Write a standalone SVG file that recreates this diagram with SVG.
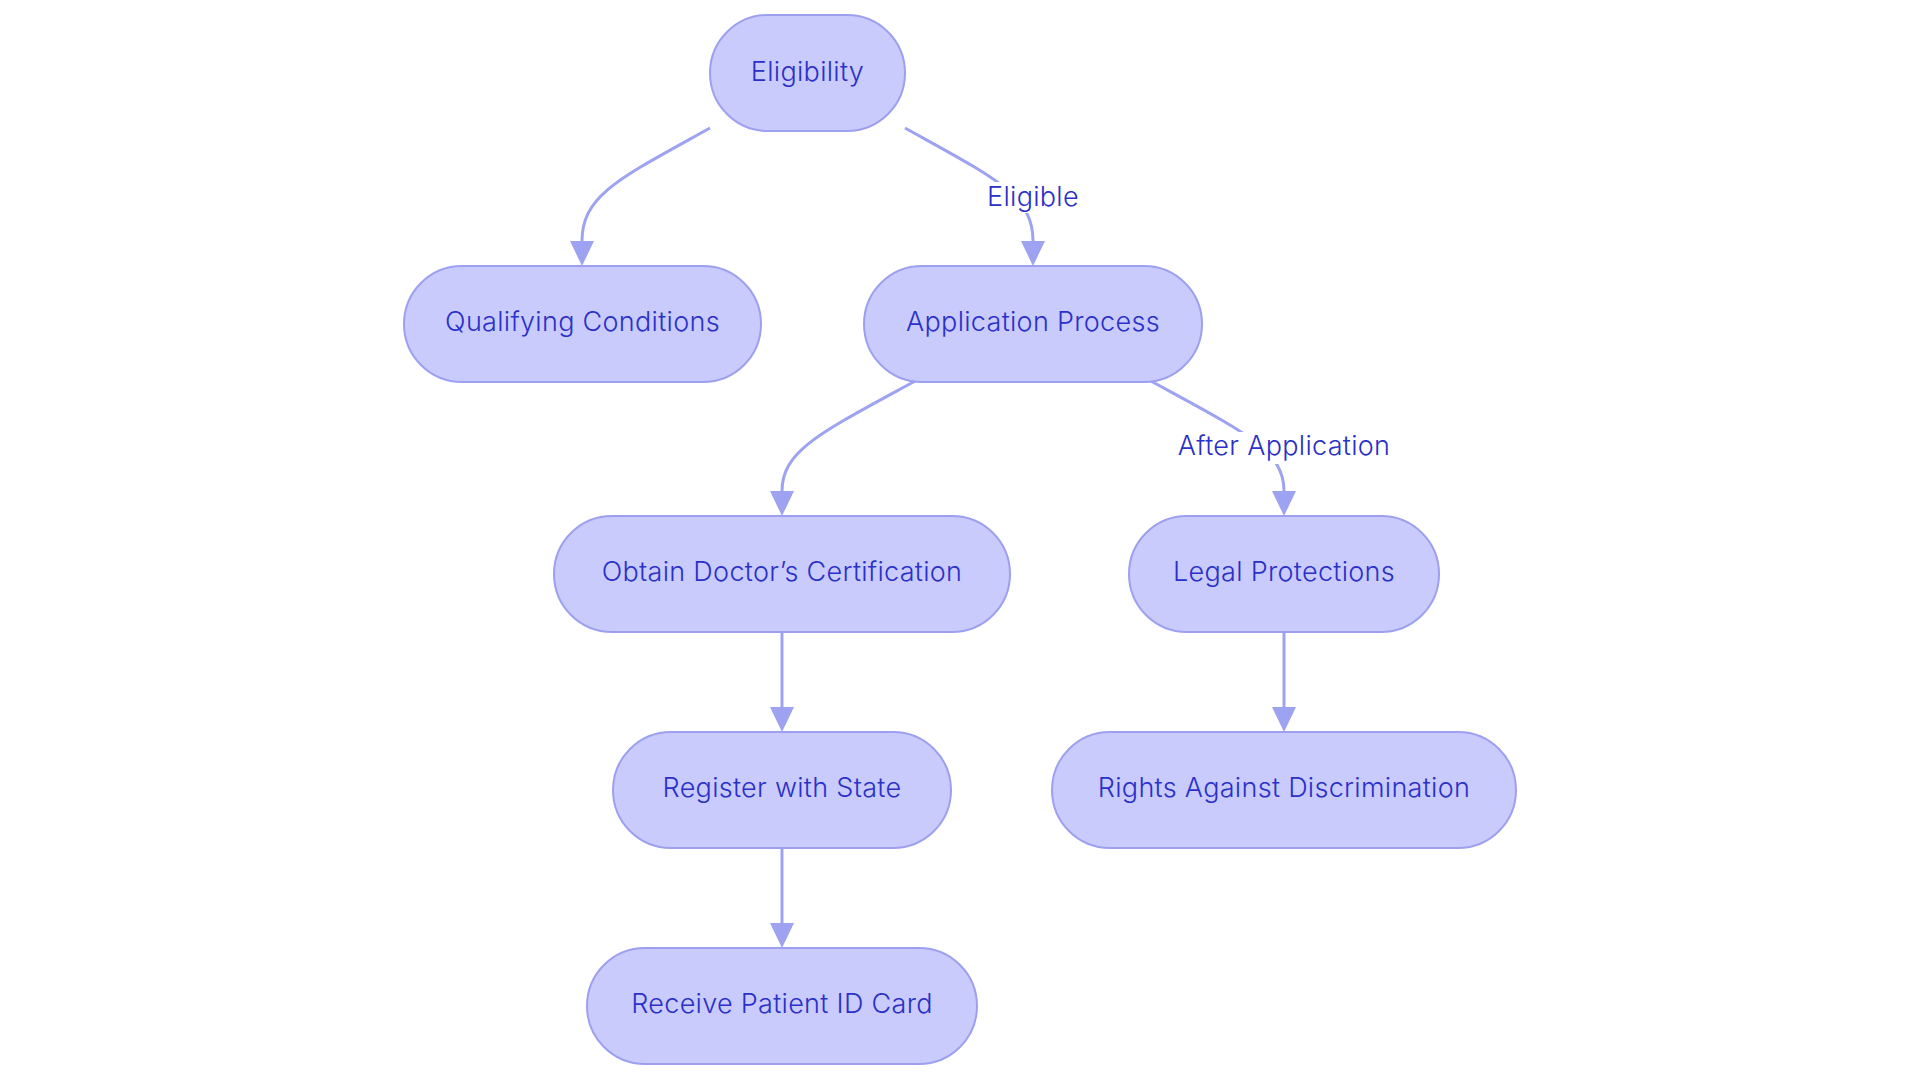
<svg xmlns="http://www.w3.org/2000/svg" width="1920" height="1083" viewBox="0 0 1920 1083">
<style>
.node rect{fill:#C9CBFD;stroke:#9CA0EE;stroke-width:2}
.node text,.lbl text{font-family:"Inter","Noto Sans",sans-serif;font-size:27px;font-weight:300;letter-spacing:0.3px;fill:#2A30C8;text-anchor:middle}
.edge{fill:none;stroke:#9DA2F1;stroke-width:3}
.lbl rect{fill:#FFFFFF}
.head{fill:#9DA2F1}
</style>
<rect width="1920" height="1083" fill="#FFFFFF"/>
<g id="connectors">
<path class="edge" d="M710,128 C620,178 582,195 582,241"/>
<path class="edge" d="M905,128 C995,178 1033,195 1033,241"/>
<path class="edge" d="M917,380 C822,432 782,450 782,491"/>
<path class="edge" d="M1149,380 C1244,432 1284,450 1284,491"/>
<path class="edge" d="M782,631 L782,707"/>
<path class="edge" d="M1284,631 L1284,707"/>
<path class="edge" d="M782,847 L782,923"/>
<path class="head" d="M570,241 L594,241 L582,266 Z"/>
<path class="head" d="M1021,241 L1045,241 L1033,266 Z"/>
<path class="head" d="M770,491 L794,491 L782,516 Z"/>
<path class="head" d="M1272,491 L1296,491 L1284,516 Z"/>
<path class="head" d="M770,707 L794,707 L782,732 Z"/>
<path class="head" d="M1272,707 L1296,707 L1284,732 Z"/>
<path class="head" d="M770,923 L794,923 L782,948 Z"/>
<g class="lbl" id="label-eligible">
<rect x="985" y="182" width="97" height="31"/>
<text x="1033" y="206">Eligible</text>
</g>
<g class="lbl" id="label-after">
<rect x="1169" y="432" width="230" height="32"/>
<text x="1284" y="455">After Application</text>
</g>
</g>
<g id="n-eligibility" class="node">
<rect x="710" y="15" width="195" height="116" rx="58" ry="58"/>
<text x="807.5" y="81">Eligibility</text>
</g>
<g id="n-qualifying" class="node">
<rect x="404" y="266" width="357" height="116" rx="58" ry="58"/>
<text x="582.5" y="331">Qualifying Conditions</text>
</g>
<g id="n-application" class="node">
<rect x="864" y="266" width="338" height="116" rx="58" ry="58"/>
<text x="1033" y="331">Application Process</text>
</g>
<g id="n-obtain" class="node">
<rect x="554" y="516" width="456" height="116" rx="58" ry="58"/>
<text x="782" y="581">Obtain Doctor’s Certification</text>
</g>
<g id="n-legal" class="node">
<rect x="1129" y="516" width="310" height="116" rx="58" ry="58"/>
<text x="1284" y="581">Legal Protections</text>
</g>
<g id="n-register" class="node">
<rect x="613" y="732" width="338" height="116" rx="58" ry="58"/>
<text x="782" y="797">Register with State</text>
</g>
<g id="n-rights" class="node">
<rect x="1052" y="732" width="464" height="116" rx="58" ry="58"/>
<text x="1284" y="797">Rights Against Discrimination</text>
</g>
<g id="n-receive" class="node">
<rect x="587" y="948" width="390" height="116" rx="58" ry="58"/>
<text x="782" y="1013">Receive Patient ID Card</text>
</g>
</svg>
